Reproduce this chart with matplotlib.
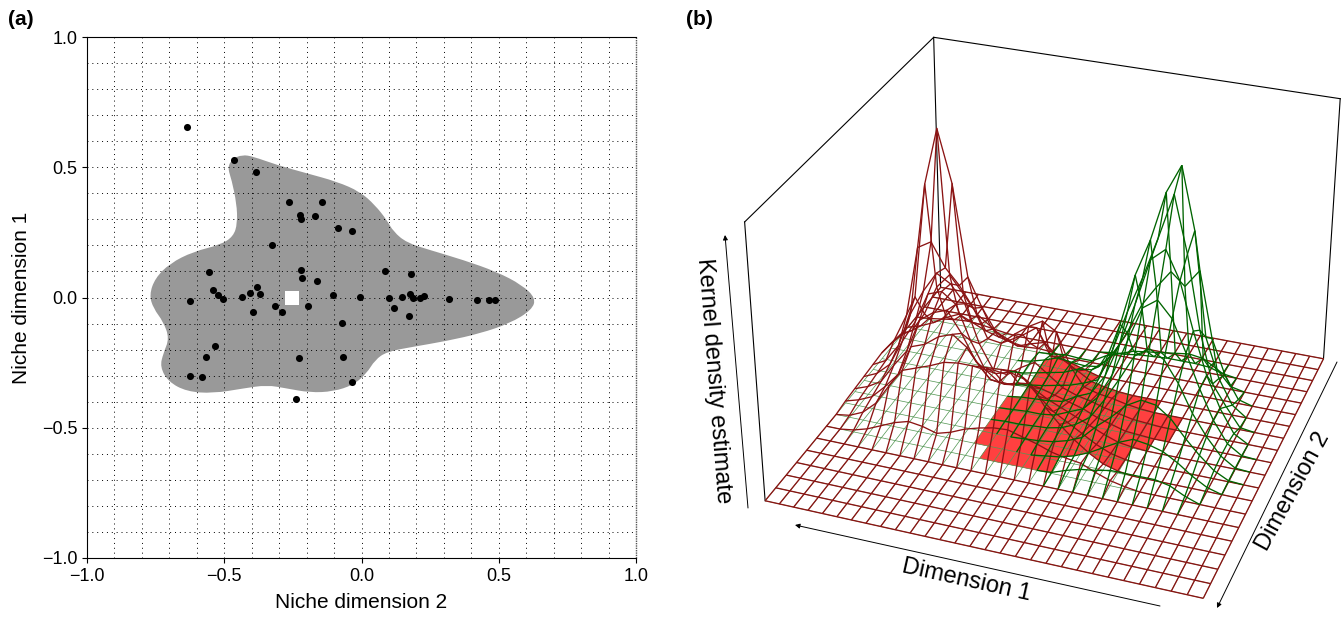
import numpy as np
import matplotlib
matplotlib.use('Agg')
import matplotlib.pyplot as plt
from matplotlib.path import Path
from matplotlib.patches import PathPatch
from mpl_toolkits.mplot3d.art3d import Line3DCollection, Poly3DCollection

plt.rcParams['font.family'] = ['Liberation Sans', 'DejaVu Sans']

# panel (a): niche space points and the niche outline
point_x = [-0.466, -0.386, -0.265, -0.144, -0.223, -0.219, -0.170, -0.086, -0.036, -0.327, -0.557, -0.222, -0.218,
           -0.162, 0.087, 0.182, -0.382, -0.540, -0.405, -0.369, -0.522, -0.506, -0.435, -0.625, -0.103, -0.004,
           0.100, 0.146, 0.177, 0.188, 0.213, 0.228, 0.320, 0.422, 0.463, 0.486, -0.315, -0.194, -0.290, -0.395,
           0.118, 0.173, -0.071, -0.535, -0.565, -0.228, -0.069, -0.624, -0.581, -0.036, -0.239, -0.636]
point_y = [0.528, 0.483, 0.368, 0.367, 0.318, 0.303, 0.312, 0.268, 0.254, 0.202, 0.099, 0.104, 0.075,
           0.062, 0.102, 0.091, 0.042, 0.028, 0.019, 0.015, 0.010, -0.006, 0.001, -0.013, 0.011, 0.003,
           -0.001, 0.001, 0.012, -0.001, -0.003, 0.007, -0.007, -0.008, -0.008, -0.010, -0.034, -0.034, -0.054, -0.056,
           -0.039, -0.072, -0.098, -0.186, -0.228, -0.234, -0.230, -0.303, -0.305, -0.326, -0.391, 0.655]
outline_x = [-0.470, -0.435, -0.394, -0.309, -0.200, -0.090, -0.005, 0.049, 0.092, 0.116, 0.165, 0.250, 0.371, 0.492,
             0.585, 0.635, 0.620, 0.541, 0.432, 0.310, 0.189, 0.092, 0.049, 0.019, -0.030, -0.103, -0.188, -0.273,
             -0.345, -0.430, -0.540, -0.637, -0.704, -0.734, -0.722, -0.700, -0.722, -0.758, -0.773, -0.752, -0.698,
             -0.613, -0.515, -0.467, -0.452, -0.455, -0.473, -0.488]
outline_y = [0.532, 0.548, 0.541, 0.509, 0.477, 0.445, 0.406, 0.355, 0.298, 0.253, 0.210, 0.182, 0.144, 0.099,
             0.048, -0.003, -0.048, -0.099, -0.138, -0.167, -0.189, -0.208, -0.240, -0.291, -0.336, -0.361, -0.365,
             -0.349, -0.336, -0.349, -0.368, -0.361, -0.323, -0.266, -0.214, -0.157, -0.093, -0.042, 0.010, 0.074,
             0.131, 0.176, 0.202, 0.234, 0.285, 0.361, 0.451, 0.500]
centroid = (-0.255, 0.0)
ticks = [-1.0, -0.5, 0.0, 0.5, 1.0]

# panel (b): kernel density heights, rows along dimension 2
red_density = [  # rows 6..16, columns 0..21
    [0, 0, 2, 6, 12, 18, 22, 20, 16, 20, 26, 30, 33, 34, 30, 26, 21, 18, 16, 10, 5, 2],
    [0, 2, 8, 20, 40, 58, 63, 68, 74, 76, 76, 77, 78, 79, 70, 50, 36, 24, 14, 6, 2, 0],
    [2, 6, 12, 25, 40, 70, 75, 85, 90, 80, 62, 60, 64, 60, 46, 34, 26, 18, 10, 4, 1, 0],
    [3, 8, 16, 35, 52, 85, 95, 100, 80, 55, 40, 38, 42, 40, 32, 26, 20, 14, 8, 3, 1, 0],
    [4, 10, 22, 48, 70, 100, 105, 95, 62, 36, 26, 26, 30, 28, 24, 20, 16, 10, 6, 2, 1, 0],
    [5, 12, 30, 65, 90, 110, 102, 85, 48, 24, 22, 32, 40, 30, 20, 15, 12, 8, 5, 2, 1, 0],
    [6, 22, 50, 120, 128, 105, 90, 70, 42, 40, 52, 62, 70, 62, 30, 12, 8, 6, 3, 1, 0, 0],
    [4, 18, 58, 172, 227, 177, 88, 60, 38, 32, 40, 50, 24, 22, 14, 6, 3, 1, 0, 0, 0, 0],
    [2, 10, 30, 60, 75, 58, 40, 30, 20, 15, 20, 24, 12, 8, 4, 0, 0, 0, 0, 0, 0, 0],
    [0, 4, 10, 18, 24, 18, 12, 8, 5, 3, 4, 3, 0, 0, 0, 0, 0, 0, 0, 0, 0, 0],
    [0, 1, 3, 5, 6, 5, 3, 1, 0, 0, 0, 0, 0, 0, 0, 0, 0, 0, 0, 0, 0, 0],
]
green_density = [  # rows 6..16, columns 10..27
    [0, 0, 0, 0, 0, 0, 1, 6, 10, 12, 15, 15, 15, 15, 12, 5, 0, 0],
    [0, 0, 0, 0, 0, 2, 4, 8, 14, 22, 30, 36, 34, 30, 22, 12, 4, 0],
    [0, 0, 0, 1, 2, 4, 8, 14, 28, 40, 54, 62, 60, 50, 34, 20, 8, 1],
    [0, 1, 1, 2, 3, 6, 12, 22, 42, 65, 90, 100, 92, 72, 46, 26, 10, 1],
    [0, 1, 2, 2, 4, 10, 16, 30, 55, 90, 125, 135, 120, 90, 58, 30, 10, 1],
    [0, 2, 3, 4, 6, 14, 20, 40, 75, 115, 160, 172, 145, 100, 60, 30, 8, 0],
    [0, 3, 5, 8, 11, 16, 22, 55, 95, 130, 170, 213, 160, 90, 40, 20, 2, 0],
    [1, 4, 7, 10, 16, 18, 30, 69, 120, 156, 203, 230, 172, 72, 34, 10, 0, 0],
    [2, 6, 11, 9, 8, 10, 25, 50, 80, 100, 118, 106, 124, 60, 26, 4, 0, 0],
    [0, 1, 3, 2, 2, 10, 15, 20, 22, 24, 26, 28, 26, 18, 3, 0, 0, 0],
    [0, 0, 0, 0, 0, 2, 3, 5, 6, 7, 7, 7, 6, 2, 0, 0, 0, 0],
]
# overlap cells: first row 6, first and last column of each row
overlap_first = [11, 10, 10, 10, 10, 11, 11, 11]
overlap_last = [15, 19, 19, 20, 21, 21, 19, 14]

W, H = 1343.0, 622.0
fig = plt.figure(figsize=(13.43, 6.22), dpi=100)

ax = fig.add_axes([87 / W, (H - 558) / H, 549 / W, 521 / H])
ax.set_xlim(-1, 1)
ax.set_ylim(-1, 1)

# closed smooth outline through the midpoints of the read points
ox, oy = np.array(outline_x), np.array(outline_y)
mx, my = (ox + np.roll(ox, -1)) / 2, (oy + np.roll(oy, -1)) / 2
verts = [(mx[-1], my[-1])]
codes = [Path.MOVETO]
for k in range(len(ox)):
    verts += [(ox[k], oy[k]), (mx[k], my[k])]
    codes += [Path.CURVE3, Path.CURVE3]
ax.add_patch(PathPatch(Path(verts, codes), fc='#999999', ec='none', zorder=1))

dots = (0, (1, 4))
for g in np.arange(-9, 10) / 10:
    ax.axvline(g, color='black', lw=0.7, ls=dots, zorder=2)
    ax.axhline(g, color='black', lw=0.7, ls=dots, zorder=2)
ax.axvline(1, color='#555555', lw=1.0, ls=(0, (1, 0.7)), clip_on=False, zorder=2)
ax.scatter(point_x, point_y, s=26, color='black', lw=0, zorder=3)
ax.scatter(*centroid, s=110, marker='s', color='white', lw=0, zorder=4)

ax.set_xticks(ticks)
ax.set_yticks(ticks)
ax.tick_params(length=3.6, width=0.8, labelsize=13, pad=3.5)
ax.spines['right'].set_visible(False)
ax.set_xlabel('Niche dimension 2', fontsize=15, labelpad=6)
ax.set_ylabel('Niche dimension 1', fontsize=15, labelpad=8)

fig.text(8 / W, 1 - 25 / H, '(a)', fontsize=15, fontweight='bold')
fig.text(686 / W, 1 - 25 / H, '(b)', fontsize=15, fontweight='bold')

# panel (b): perspective box fitted to the reference corners
ax3 = fig.add_axes([709.2 / W, (H - 655.67) / H, 679.2 / W, 700.4 / H], projection='3d')
ax3.apply_aspect = lambda position=None: None
ax3.set_axis_off()
ax3.patch.set_alpha(0)
nu, nv = 30, 20
ztop = 255
ax3.set_xlim(0, nu - 1)
ax3.set_ylim(0, nv - 1)
ax3.set_zlim(0, ztop)
ax3.view_init(elev=29.25, azim=-69.858, roll=0.004)
ax3.set_box_aspect((1, 0.9931, 0.6658))
ax3.set_proj_type('persp', focal_length=0.6203)
ax3.computed_zorder = False

U, V = np.meshgrid(np.arange(nu), np.arange(nv))
Z_red = np.zeros((nv, nu))
Z_red[6:17, :22] = red_density
Z_green = np.zeros((nv, nu))
Z_green[6:17, 10:28] = green_density
Z_low = np.minimum(Z_red, Z_green)


def raised_segments(Z):
    segs = []
    for j in range(nv):
        for i in range(nu):
            if i + 1 < nu and Z[j, i] + Z[j, i + 1] > 0:
                segs.append([(i, j, Z[j, i]), (i + 1, j, Z[j, i + 1])])
            if j + 1 < nv and Z[j, i] + Z[j + 1, i] > 0:
                segs.append([(i, j, Z[j, i]), (i, j + 1, Z[j + 1, i])])
    return segs


# back edges of the box
for bx, by in [(0, 0), (nu - 1, nv - 1), (0, nv - 1)]:
    ax3.plot([bx, bx], [by, by], [0, ztop], color='black', lw=0.8, zorder=1)
ax3.plot([0, 0, nu - 1], [0, nv - 1, nv - 1], [ztop, ztop, ztop], color='black', lw=0.8, zorder=1)

cells = []
for row, (first, last) in enumerate(zip(overlap_first, overlap_last)):
    j = row + 6
    for i in range(first, last + 1):
        cells.append([(i, j, Z_low[j, i]), (i + 1, j, Z_low[j, i + 1]),
                      (i + 1, j + 1, Z_low[j + 1, i + 1]), (i, j + 1, Z_low[j + 1, i])])
ax3.add_collection3d(Poly3DCollection(cells, facecolor='#FF4040', edgecolor='#FF4040', linewidth=0.3, zorder=2))

ax3.plot_wireframe(U, V, np.zeros_like(Z_red), color='#4f944f', lw=0.5, zorder=3)
ax3.plot_wireframe(U, V, Z_red, color='#8B1414', lw=0.95, zorder=4)
ax3.add_collection3d(Line3DCollection(raised_segments(Z_green), colors='#006400', lw=0.95, zorder=5))


def to_fig(px, py):
    return (px / W, 1 - py / H)


arrow = dict(arrowstyle='-|>', color='black', lw=0.7, mutation_scale=7, shrinkA=0, shrinkB=0)
ax3.annotate('', xy=to_fig(725, 235), xytext=to_fig(748, 508), xycoords='figure fraction', textcoords='figure fraction', arrowprops=arrow)
ax3.annotate('', xy=to_fig(795, 525), xytext=to_fig(1160, 606), xycoords='figure fraction', textcoords='figure fraction', arrowprops=arrow)
ax3.annotate('', xy=to_fig(1217, 608), xytext=to_fig(1337, 362), xycoords='figure fraction', textcoords='figure fraction', arrowprops=arrow)

fx, fy = to_fig(714, 381)
fig.text(fx, fy, 'Kernel density estimate', fontsize=17, rotation=-85.5, ha='center', va='center', rotation_mode='anchor')
fx, fy = to_fig(966, 580)
fig.text(fx, fy, 'Dimension 1', fontsize=17, rotation=-12.5, ha='center', va='center', rotation_mode='anchor')
fx, fy = to_fig(1293, 491)
fig.text(fx, fy, 'Dimension 2', fontsize=17, rotation=61.5, ha='center', va='center', rotation_mode='anchor')

fig.savefig('out.png')
